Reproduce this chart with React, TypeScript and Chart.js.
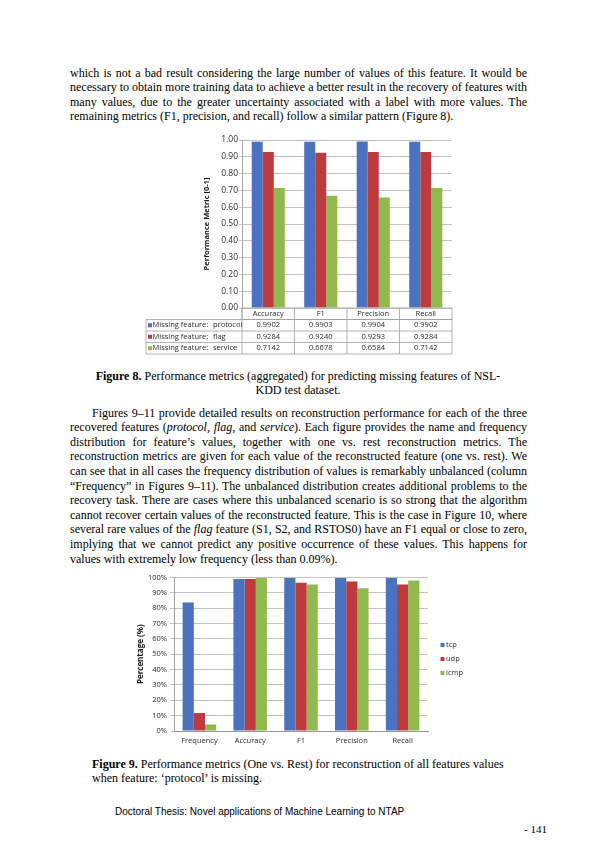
import React, { useRef, useEffect } from 'react';
import { Chart, registerables } from 'chart.js';

Chart.register(...registerables);

// Figure 8 - aggregated metrics per missing feature
const METRICS = ['Accuracy', 'F1', 'Precision', 'Recall'];
const MISSING_FEATURES = ['protocol', 'flag', 'service'];
const PROTOCOL_MISSING = [0.9902, 0.9903, 0.9904, 0.9902];
const FLAG_MISSING = [0.9284, 0.924, 0.9293, 0.9284];
const SERVICE_MISSING = [0.7142, 0.6678, 0.6584, 0.7142];

// Figure 9 - one vs rest, feature 'protocol' missing (percent)
const FIG9_LABELS = ['Frequency', 'Accuracy', 'F1', 'Precision', 'Recall'];
const PROTOCOL_VALUES = ['tcp', 'udp', 'icmp'];
const TCP = [83.7, 99.1, 99.6, 99.6, 99.6];
const UDP = [11.7, 99.1, 96.5, 97.4, 95.4];
const ICMP = [4.3, 99.6, 95.4, 93.0, 98.0];

const COLORS = ['#4a72bf', '#bd3b3d', '#91ba4e'];
const FONT = "'Open Sans', sans-serif";
const TEXT = '#2b2b2b';
const GRID = '#b4b4b4';
const AXIS = '#8c8c8c';

// draws the Excel-style data table under figure 8
const fig8Table = {
  id: 'fig8Table',
  afterDraw(chart: any) {
    const { ctx, chartArea } = chart;
    const xs = chart.scales.x;
    const n = chart.data.labels.length;
    const colW = chartArea.width / n;
    const rowH = 11.5;
    const top = chartArea.bottom;
    const left = 6;
    const sets = chart.data.datasets;

    ctx.save();
    ctx.strokeStyle = '#a0a0a0';
    ctx.lineWidth = 0.8;
    // header row
    ctx.strokeRect(chartArea.left, top, chartArea.width, rowH);
    // body rows
    ctx.strokeRect(left, top + rowH, chartArea.right - left, rowH * sets.length);
    for (let r = 1; r < sets.length; r++) {
      ctx.beginPath();
      ctx.moveTo(left, top + rowH * (r + 1));
      ctx.lineTo(chartArea.right, top + rowH * (r + 1));
      ctx.stroke();
    }
    for (let i = 0; i < n; i++) {
      const x0 = xs.getPixelForValue(i) - colW / 2;
      ctx.beginPath();
      ctx.moveTo(x0, top);
      ctx.lineTo(x0, top + rowH * (sets.length + 1));
      ctx.stroke();
    }

    ctx.font = `7.5px ${FONT}`;
    ctx.fillStyle = TEXT;
    ctx.textBaseline = 'middle';
    ctx.textAlign = 'center';
    chart.data.labels.forEach((lab: string, i: number) => {
      ctx.fillText(lab, xs.getPixelForValue(i), top + rowH / 2);
    });
    sets.forEach((ds: any, r: number) => {
      const cy = top + rowH * (r + 1) + rowH / 2;
      ds.data.forEach((v: number, i: number) => {
        ctx.textAlign = 'center';
        ctx.fillStyle = TEXT;
        ctx.fillText(v.toFixed(4), xs.getPixelForValue(i), cy);
      });
      ctx.fillStyle = ds.backgroundColor;
      ctx.fillRect(left + 2, cy - 2, 4, 4);
      ctx.fillStyle = TEXT;
      ctx.textAlign = 'left';
      ctx.fillText('Missing feature:', left + 6.5, cy);
      ctx.fillText(MISSING_FEATURES[r], 73, cy);
    });
    ctx.restore();
  },
};

// legend drawn to the right of figure 9 plot
const fig9Legend = {
  id: 'fig9Legend',
  afterDraw(chart: any) {
    const { ctx, chartArea } = chart;
    const sets = chart.data.datasets;
    ctx.save();
    ctx.font = `7.5px ${FONT}`;
    ctx.textBaseline = 'middle';
    ctx.textAlign = 'left';
    sets.forEach((ds: any, i: number) => {
      const cy = chart.height / 2 + (i - (sets.length - 1) / 2) * 14;
      const x = chartArea.right + 12.5;
      ctx.fillStyle = ds.backgroundColor;
      ctx.fillRect(x, cy - 2, 4, 4);
      ctx.fillStyle = TEXT;
      ctx.fillText(ds.label, x + 5.5, cy);
    });
    ctx.restore();
  },
};

const fig8Config = (): any => ({
  type: 'bar',
  data: {
    labels: METRICS,
    datasets: [PROTOCOL_MISSING, FLAG_MISSING, SERVICE_MISSING].map((d, i) => ({
      label: 'Missing feature: ' + MISSING_FEATURES[i],
      data: d,
      backgroundColor: COLORS[i],
      borderWidth: 0,
      categoryPercentage: 0.63,
      barPercentage: 1,
    })),
  },
  options: {
    animation: false,
    responsive: true,
    maintainAspectRatio: false,
    layout: { padding: { left: 62, right: 18, top: 8, bottom: 50 } },
    plugins: { legend: { display: false }, tooltip: { enabled: false } },
    scales: {
      x: { display: false },
      y: {
        min: 0,
        max: 1,
        ticks: {
          stepSize: 0.1,
          callback: (v: any) => Number(v).toFixed(2),
          font: { family: FONT, size: 8.5 },
          color: TEXT,
          padding: 1,
        },
        grid: { color: GRID, lineWidth: 0.8, tickLength: 3 },
        border: { color: AXIS, width: 0.8 },
        title: {
          display: true,
          text: 'Performance Metric [0-1]',
          font: { family: FONT, size: 7.5, weight: 'bold' },
          color: '#1a1a1a',
          padding: 0,
        },
        afterFit: (s: any) => {
          s.width = 40;
        },
      },
    },
  },
  plugins: [fig8Table],
});

const fig9Config = (): any => ({
  type: 'bar',
  data: {
    labels: FIG9_LABELS,
    datasets: [TCP, UDP, ICMP].map((d, i) => ({
      label: PROTOCOL_VALUES[i],
      data: d,
      backgroundColor: COLORS[i],
      borderWidth: 0,
      categoryPercentage: 0.66,
      barPercentage: 1,
    })),
  },
  options: {
    animation: false,
    responsive: true,
    maintainAspectRatio: false,
    layout: { padding: { left: 16, right: 52, top: 9.5, bottom: 0 } },
    plugins: { legend: { display: false }, tooltip: { enabled: false } },
    scales: {
      x: {
        ticks: { font: { family: FONT, size: 7.5 }, color: TEXT, padding: 5 },
        grid: { display: false, drawTicks: false },
        border: { color: AXIS, width: 0.8 },
        afterFit: (s: any) => {
          s.height = 19;
        },
      },
      y: {
        min: 0,
        max: 100,
        ticks: {
          stepSize: 10,
          callback: (v: any) => v + '%',
          font: { family: FONT, size: 7.5 },
          color: TEXT,
          padding: 3,
        },
        grid: { color: GRID, lineWidth: 0.8, tickLength: 4 },
        border: { color: AXIS, width: 0.8 },
        title: {
          display: true,
          text: 'Percentage (%)',
          font: { family: FONT, size: 8, weight: 'bold' },
          color: '#1a1a1a',
          padding: 0,
        },
        afterFit: (s: any) => {
          s.width = 38;
        },
      },
    },
  },
  plugins: [fig9Legend],
});

function ChartBox({ config, style }: { config: () => any; style: React.CSSProperties }) {
  const ref = useRef<HTMLCanvasElement>(null);
  useEffect(() => {
    if (!ref.current) return;
    const chart = new Chart(ref.current, config());
    return () => {
      chart.destroy();
    };
  }, []);
  return (
    <div style={{ position: 'absolute', ...style }}>
      <canvas ref={ref} />
    </div>
  );
}

const LH = 14.6;
const serif = "'Liberation Serif', 'Times New Roman', serif";

function Line({ children, last, indent }: { children: React.ReactNode; last?: boolean; indent?: number }) {
  return (
    <div
      style={{
        height: LH,
        lineHeight: LH + 'px',
        whiteSpace: 'nowrap',
        textAlign: 'justify',
        textAlignLast: last ? 'left' : 'justify',
        paddingLeft: indent || 0,
      }}
    >
      {children}
    </div>
  );
}

export default function App() {
  return (
    <div
      style={{
        position: 'absolute',
        left: 0,
        top: 0,
        width: 596,
        height: 842,
        background: '#fff',
        fontFamily: serif,
        fontSize: 12,
        color: '#000',
      }}
    >
      <div style={{ position: 'absolute', left: 70, top: 73 - LH / 2, width: 457 }}>
        <Line>which is not a bad result considering the large number of values of this feature. It would be</Line>
        <Line>necessary to obtain more training data to achieve a better result in the recovery of features with</Line>
        <Line>many values, due to the greater uncertainty associated with a label with more values. The</Line>
        <Line last>remaining metrics (F1, precision, and recall) follow a similar pattern (Figure 8).</Line>
      </div>

      <ChartBox config={fig8Config} style={{ left: 140, top: 132, width: 330, height: 226 }} />

      <div style={{ position: 'absolute', left: 60, top: 376 - LH / 2, width: 476, textAlign: 'center', lineHeight: LH + 'px' }}>
        <b>Figure 8.</b> Performance metrics (aggregated) for predicting missing features of NSL-
        <br />
        KDD test dataset.
      </div>

      <div style={{ position: 'absolute', left: 70, top: 413 - LH / 2, width: 457 }}>
        <Line indent={22}>Figures 9–11 provide detailed results on reconstruction performance for each of the three</Line>
        <Line>
          recovered features (<i>protocol</i>, <i>flag</i>, and <i>service</i>). Each figure provides the name and frequency
        </Line>
        <Line>distribution for feature’s values, together with one vs. rest reconstruction metrics. The</Line>
        <Line>reconstruction metrics are given for each value of the reconstructed feature (one vs. rest). We</Line>
        <Line>can see that in all cases the frequency distribution of values is remarkably unbalanced (column</Line>
        <Line>“Frequency” in Figures 9–11). The unbalanced distribution creates additional problems to the</Line>
        <Line>recovery task. There are cases where this unbalanced scenario is so strong that the algorithm</Line>
        <Line>cannot recover certain values of the reconstructed feature. This is the case in Figure 10, where</Line>
        <Line>
          several rare values of the <i>flag</i> feature (S1, S2, and RSTOS0) have an F1 equal or close to zero,
        </Line>
        <Line>implying that we cannot predict any positive occurrence of these values. This happens for</Line>
        <Line last>values with extremely low frequency (less than 0.09%).</Line>
      </div>

      <ChartBox config={fig9Config} style={{ left: 120, top: 568, width: 360, height: 182 }} />

      <div style={{ position: 'absolute', left: 92, top: 764 - LH / 2, width: 440, lineHeight: LH + 'px', whiteSpace: 'nowrap' }}>
        <b>Figure 9.</b> Performance metrics (One vs. Rest) for reconstruction of all features values
        <br />
        when feature: ‘protocol’ is missing.
      </div>

      <div
        style={{
          position: 'absolute',
          left: 115,
          top: 812 - 7,
          lineHeight: '14px',
          fontFamily: "'Liberation Sans', Arial, sans-serif",
          fontSize: 10,
          whiteSpace: 'nowrap',
        }}
      >
        Doctoral Thesis: Novel applications of Machine Learning to NTAP
      </div>
      <div style={{ position: 'absolute', right: 596 - 547, top: 829 - 7, lineHeight: '14px', fontSize: 11 }}>- 141</div>
    </div>
  );
}
